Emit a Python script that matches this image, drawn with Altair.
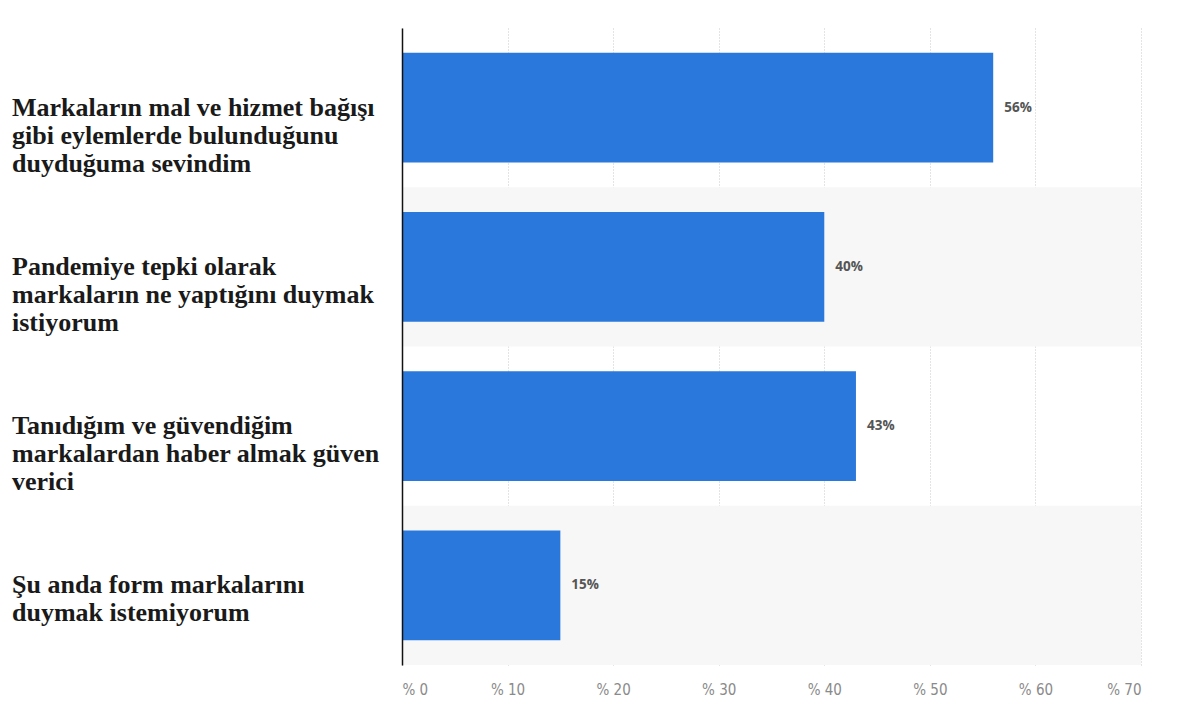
import altair as alt
import pandas as pd

categories = [
    "Markaların mal ve hizmet bağışı\ngibi eylemlerde bulunduğunu\nduyduğuma sevindim",
    "Pandemiye tepki olarak\nmarkaların ne yaptığını duymak\nistiyorum",
    "Tanıdığım ve güvendiğim\nmarkalardan haber almak güven\nverici",
    "Şu anda form markalarını\nduymak istemiyorum\n ",
]
values = [56, 40, 43, 15]
x_ticks = [0, 10, 20, 30, 40, 50, 60, 70]
shaded_rows = [1, 3]

df = pd.DataFrame({"cat": categories, "val": values,
                   "lab": [f"{v}%" for v in values]})
bg = pd.DataFrame({"y0": [r for r in shaded_rows],
                   "y1": [r + 1 for r in shaded_rows],
                   "x0": [0] * len(shaded_rows),
                   "x1": [70] * len(shaded_rows)})

xscale = alt.Scale(domain=[0, 70], nice=False, zero=True)
yscale = alt.Scale(domain=categories, paddingInner=0.31)

xaxis = alt.Axis(values=x_ticks, labelExpr="'% ' + datum.value", title=None,
                 grid=True, gridColor="#c8c8c8", gridDash=[1, 2], gridWidth=1,
                 domain=False, ticks=False, labelColor="#8a8a8a", labelFontSize=15,
                 labelFont="Liberation Sans Narrow, DejaVu Sans Condensed, sans-serif",
                 labelPadding=17)

background = alt.Chart(bg).mark_rect(color="#f7f7f7").encode(
    x=alt.X("x0:Q", scale=xscale, axis=xaxis),
    x2="x1",
    y=alt.Y("y0:Q", scale=alt.Scale(domain=[0, 4], reverse=True, nice=False, zero=False), axis=None),
    y2="y1",
)

bars = alt.Chart(df).mark_bar(color="#2a78dc").encode(
    x=alt.X("val:Q", scale=xscale, axis=xaxis),
    y=alt.Y("cat:N", scale=yscale, sort=categories,
            axis=alt.Axis(labels=False, ticks=False, title=None, grid=False,
                          domainColor="#111111", domainWidth=1.5, zindex=2)),
)

vals = alt.Chart(df).mark_text(align="left", baseline="middle", dx=11,
                               font="Open Sans", fontWeight="bold", fontSize=13.5,
                               color="#555555").encode(
    x=alt.X("val:Q", scale=xscale),
    y=alt.Y("cat:N", scale=yscale, sort=categories),
    text="lab:N",
)

labels = alt.Chart(df).mark_text(align="left", baseline="middle", lineBreak="\n",
                                 lineHeight=28, font="Liberation Serif",
                                 fontWeight="bold", fontSize=26,
                                 color="#1a1a1a").encode(
    x=alt.value(-390),
    y=alt.Y("cat:N", scale=yscale, sort=categories),
    text="cat:N",
)

front = alt.layer(bars, vals, labels)

chart = alt.layer(background, front).resolve_scale(
    y="independent"
).properties(
    width=739, height=637,
    autosize=alt.AutoSizeParams(type="none"),
    padding={"left": 394, "top": 20, "right": 20, "bottom": 35},
).configure_view(stroke=None)

chart.save("out.html", embed_options={"renderer": "svg", "actions": False})
